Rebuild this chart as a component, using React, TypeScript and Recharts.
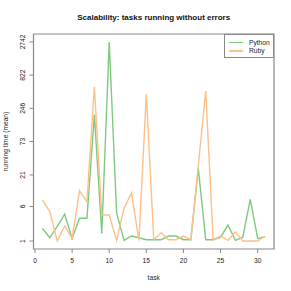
import { Legend, Line, LineChart, ReferenceArea, XAxis, YAxis } from 'recharts';

const tasks = [1, 2, 3, 4, 5, 6, 7, 8, 9, 10, 11, 12, 13, 14, 15, 16, 17, 18, 19, 20, 21, 22, 23, 24, 25, 26, 27, 28, 29, 30, 31];
const pythonTimes = [2.17, 1.25, 2.4, 4.3, 1.2, 3.56, 3.56, 195, 1.64, 2742, 4.5, 1.05, 1.4, 1.25, 1.1, 1.1, 1.1, 1.4, 1.4, 1.1, 1.1, 27, 1.1, 1.1, 1.3, 2.57, 1.05, 1.3, 8.1, 1.2, 1.35];
const rubyTimes = [7.9, 4.8, 1, 2.45, 1.2, 11.4, 7.3, 540, 4.14, 4.14, 1.05, 5.55, 10.5, 1.05, 412, 1.1, 1.7, 1.1, 1.1, 1.4, 1.1, 30, 460, 1.1, 1.4, 1.05, 1.8, 1, 1, 1, 1.4];
const xTicks = [0, 5, 10, 15, 20, 25, 30];
const yTickLabels = [1, 6, 21, 73, 246, 822, 2742];

const FONT = '"Liberation Sans", Arial, Helvetica, sans-serif';
const PY_COLOR = '#7FC97F';
const RB_COLOR = '#FDC086';
const BOX = '#888';

// y axis is log(1 + time), like the original plot
const data = tasks.map((task, i) => ({
  task,
  python: Math.log1p(pythonTimes[i]),
  ruby: Math.log1p(rubyTimes[i]),
}));

const all = [...pythonTimes, ...rubyTimes];
const tMin = Math.log1p(Math.min(...all));
const tMax = Math.log1p(Math.max(...all));
const tPad = (tMax - tMin) * 0.04;
const yDomain: [number, number] = [tMin - tPad, tMax + tPad];
const xPad = (tasks[tasks.length - 1] - tasks[0]) * 0.04;
const xDomain: [number, number] = [tasks[0] - xPad, tasks[tasks.length - 1] + xPad];

function YTick({ y, payload }: any) {
  return (
    <text
      transform={`translate(25,${y}) rotate(-90)`}
      textAnchor="middle"
      fontSize={6.67}
      fontFamily={FONT}
      fill="#222"
    >
      {Math.round(Math.expm1(payload.value))}
    </text>
  );
}

function LegendBox() {
  const items = [
    { name: 'Python', color: PY_COLOR },
    { name: 'Ruby', color: RB_COLOR },
  ];
  return (
    <div style={{ position: 'relative', width: 50, height: 24, border: `1px solid ${BOX}`, boxSizing: 'border-box', background: '#fff' }}>
      {items.map((it, i) => (
        <div key={it.name} style={{ position: 'absolute', left: 4, top: 3.5 + i * 8.4, height: 8, display: 'flex', alignItems: 'center' }}>
          <span style={{ display: 'inline-block', width: 14, height: 1.5, background: it.color }} />
          <span style={{ marginLeft: 6, fontSize: 6.67, fontFamily: FONT, color: '#222', lineHeight: '8px' }}>{it.name}</span>
        </div>
      ))}
    </div>
  );
}

export default function App() {
  return (
    <div style={{ position: 'absolute', left: 0, top: 0 }}>
      <LineChart width={291} height={291} data={data} margin={{ top: 34, right: 17, bottom: 0, left: 0 }}>
        <XAxis
          dataKey="task"
          type="number"
          domain={xDomain}
          ticks={xTicks}
          allowDataOverflow
          height={42}
          axisLine={false}
          tickLine={{ stroke: BOX }}
          tickSize={4}
          tickMargin={5}
          tick={{ fontSize: 6.67, fontFamily: FONT, fill: '#222' }}
        />
        <YAxis
          type="number"
          domain={yDomain}
          ticks={yTickLabels.map((v) => Math.log1p(v))}
          allowDataOverflow
          width={33.5}
          axisLine={false}
          tickLine={{ stroke: BOX }}
          tickSize={4}
          tick={<YTick />}
        />
        <ReferenceArea x1={xDomain[0]} x2={xDomain[1]} y1={yDomain[0]} y2={yDomain[1]} fill="none" stroke={BOX} strokeWidth={1.2} />
        <Line dataKey="python" name="Python" stroke={PY_COLOR} strokeWidth={1.4} dot={false} isAnimationActive={false} />
        <Line dataKey="ruby" name="Ruby" stroke={RB_COLOR} strokeWidth={1.4} dot={false} isAnimationActive={false} />
        <Legend
          layout="horizontal"
          verticalAlign="middle"
          align="center"
          wrapperStyle={{ left: 224, top: 34, width: 50, height: 24 }}
          content={() => <LegendBox />}
        />
        <text x={153.7} y={19.5} textAnchor="middle" fontSize={8} fontWeight="bold" fontFamily={FONT} fill="#111">
          Scalability: tasks running without errors
        </text>
        <text x={153.7} y={280} textAnchor="middle" fontSize={6.67} fontFamily={FONT} fill="#222">
          task
        </text>
        <text transform="translate(8,141.5) rotate(-90)" textAnchor="middle" fontSize={6.67} fontFamily={FONT} fill="#222">
          running time (mean)
        </text>
      </LineChart>
    </div>
  );
}
